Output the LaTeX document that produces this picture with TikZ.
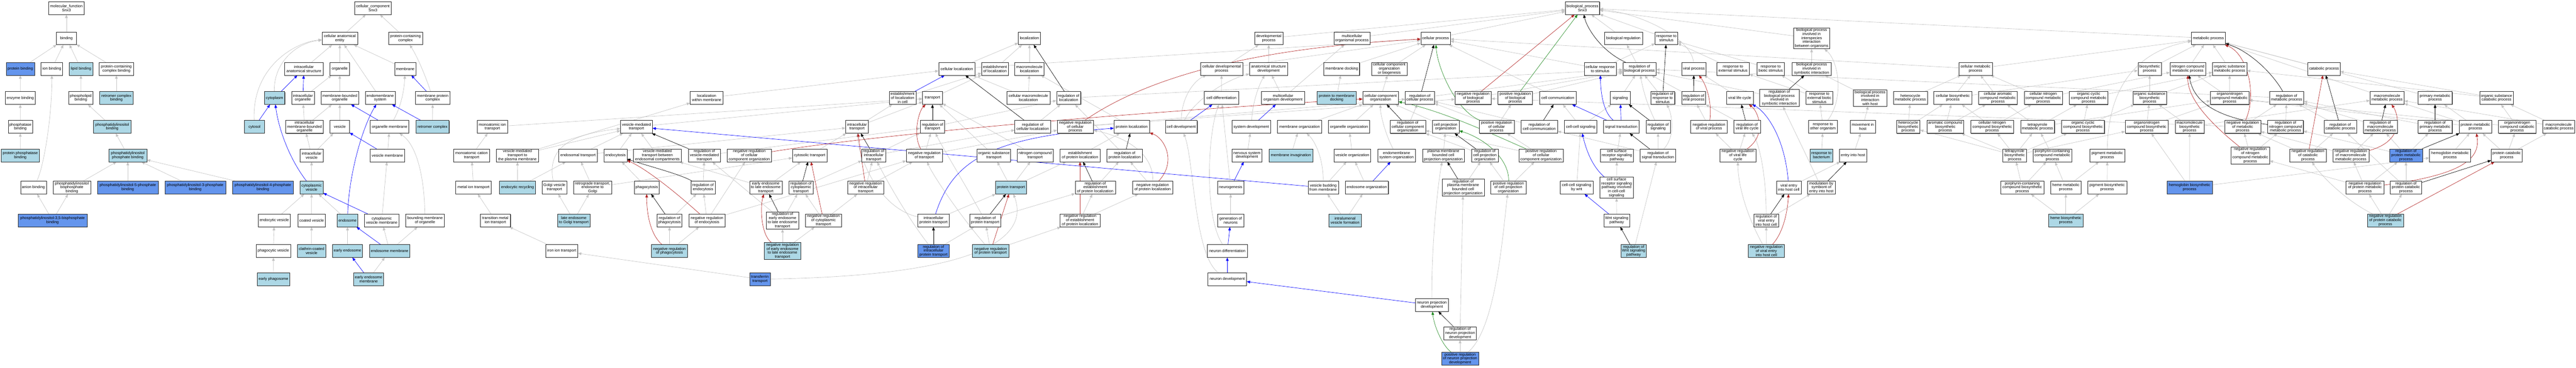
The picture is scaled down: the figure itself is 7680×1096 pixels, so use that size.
\documentclass[tikz,border=0pt]{standalone}
\usepackage{fontspec}
\newfontfamily\gofont{Liberation Sans}
\usetikzlibrary{arrows.meta, shadows}
\definecolor{selblue}{HTML}{ADD8E6}
\definecolor{annoblue}{HTML}{6495ED}
\definecolor{isagrey}{HTML}{C4C4C4}
\definecolor{partblue}{HTML}{0000FF}
\definecolor{negred}{HTML}{B22222}
\definecolor{posgreen}{HTML}{228B22}
\pgfdeclarelayer{back}
\pgfdeclarelayer{bg}
\pgfsetlayers{back,bg,main}

\begin{document}
\begin{tikzpicture}[x=1pt, y=-1pt,
    term/.style={draw=black!85, line width=0.8pt, fill=white, align=center,
      font=\gofont\fontsize{11.5}{12}\selectfont, inner xsep=1pt, inner ysep=2pt,
      minimum height=38pt,
      drop shadow={shadow xshift=1.3pt, shadow yshift=-1.3pt, fill=black!55, opacity=1}},
    sel/.style={term, fill=selblue},
    anno/.style={term, fill=annoblue},
    isa/.style={draw=isagrey, line width=1pt, -{Triangle[length=10pt,width=8pt]}},
    partof/.style={isa, draw=partblue},
    reg/.style={isa, draw=black},
    negreg/.style={isa, draw=negred},
    posreg/.style={isa, draw=posgreen}]

  \begin{pgfonlayer}{back}
    \fill[white] (0,0) rectangle (7680,1096);
  \end{pgfonlayer}
  \useasboundingbox (0,0) rectangle (7680,1096);

  % molecular function
  \node[term, minimum width=106pt] (mf) at (198,24) {molecular\_function\\Snx3};
  \node[term, minimum width=59pt] (bind) at (198,114) {binding};
  \node[anno, minimum width=84pt] (protbind) at (60.6,205) {protein binding};
  \node[term, minimum width=64pt] (ionbind) at (154.5,205) {ion binding};
  \node[sel, minimum width=70pt] (lipbind) at (241.4,205) {lipid binding};
  \node[term, minimum width=102pt] (pccbind) at (347,205) {protein-containing\\complex binding};
  \node[term, minimum width=90pt] (enzbind) at (60.4,292) {enzyme binding};
  \node[term, minimum width=72pt] (plbind) at (241,292) {phospholipid\\binding};
  \node[sel, minimum width=99pt] (retbind) at (347,292) {retromer complex\\binding};
  \node[term, minimum width=72pt] (phosbind) at (60.6,378) {phosphatase\\binding};
  \node[sel, minimum width=113pt] (pibind) at (334.5,378) {phosphatidylinositol\\binding};
  \node[sel, minimum width=113pt] (ppbind) at (60.4,463) {protein phosphatase\\binding};
  \node[sel, minimum width=113pt] (pipbind) at (381,463) {phosphatidylinositol\\phosphate binding};
  \node[term, minimum width=77pt] (anbind) at (99.6,559) {anion binding};
  \node[term, minimum width=112pt] (pibpbind) at (214.3,559) {phosphatidylinositol\\bisphosphate\\binding};
  \node[anno, minimum width=182pt] (pifivebind) at (381,559) {phosphatidylinositol-5-phosphate\\binding};
  \node[anno, minimum width=181pt] (pithreebind) at (582,559) {phosphatidylinositol-3-phosphate\\binding};
  \node[anno, minimum width=182pt] (pifourbind) at (783.7,559) {phosphatidylinositol-4-phosphate\\binding};
  \node[anno, minimum width=206pt] (pitfbind) at (156.7,657) {phosphatidylinositol-3,5-bisphosphate\\binding};

  % cellular component
  \node[term, minimum width=109pt] (cc) at (1111.8,24) {cellular\_component\\Snx3};
  \node[term, minimum width=106pt] (cae) at (1013,114) {cellular anatomical\\entity};
  \node[term, minimum width=102pt] (pcc) at (1209,114) {protein-containing\\complex};
  \node[term, minimum width=115pt] (ias) at (906,205) {intracellular\\anatomical structure};
  \node[term, minimum width=58pt] (orgl) at (1013,205) {organelle};
  \node[term, minimum width=63pt] (memb) at (1208,205) {membrane};
  \node[sel, minimum width=61pt] (cytopl) at (818.5,292) {cytoplasm};
  \node[term, minimum width=68pt] (iorg) at (903,292) {intracellular\\organelle};
  \node[term, minimum width=112pt] (mbo) at (1013,292) {membrane-bounded\\organelle};
  \node[term, minimum width=89pt] (ems) at (1133.5,292) {endomembrane\\system};
  \node[term, minimum width=102pt] (mpc) at (1290,292) {membrane protein\\complex};
  \node[sel, minimum width=59pt] (cytosol) at (758.7,378) {cytosol};
  \node[term, minimum width=112pt] (imbo) at (908,378) {intracellular\\membrane-bounded\\organelle};
  \node[term, minimum width=58pt] (ves) at (1013,378) {vesicle};
  \node[term, minimum width=115pt] (orgmem) at (1161.4,378) {organelle membrane};
  \node[sel, minimum width=99pt] (retcx) at (1289.5,378) {retromer complex};
  \node[term, minimum width=68pt] (ives) at (929,463) {intracellular\\vesicle};
  \node[term, minimum width=102pt] (vesmem) at (1155,463) {vesicle membrane};
  \node[sel, minimum width=69pt] (cves) at (928.8,559) {cytoplasmic\\vesicle};
  \node[term, minimum width=96pt] (endves) at (817.6,657) {endocytic vesicle};
  \node[term, minimum width=81pt] (coves) at (929,657) {coated vesicle};
  \node[sel, minimum width=61pt] (endo) at (1036,657) {endosome};
  \node[term, minimum width=102pt] (cvesmem) at (1138,657) {cytoplasmic\\vesicle membrane};
  \node[term, minimum width=115pt] (bmo) at (1267,657) {bounding membrane\\of organelle};
  \node[term, minimum width=102pt] (phves) at (815,748) {phagocytic vesicle};
  \node[sel, minimum width=84pt] (ccves) at (928.8,748) {clathrin-coated\\vesicle};
  \node[sel, minimum width=89pt] (eendo) at (1036,748) {early endosome};
  \node[sel, minimum width=121pt] (endomem) at (1161.6,748) {endosome membrane};
  \node[sel, minimum width=96pt] (ephago) at (815.5,832) {early phagosome};
  \node[sel, minimum width=89pt] (eendomem) at (1099,832) {early endosome\\membrane};

  % transport
  \node[term, minimum width=91pt] (miont) at (1468,378) {monoatomic ion\\transport};
  \node[term, minimum width=95pt] (vmt) at (1897.5,378) {vesicle-mediated\\transport};
  \node[term, minimum width=107pt] (mcatt) at (1406,463) {monoatomic cation\\transport};
  \node[term, minimum width=125pt] (vmtpm) at (1542.6,463) {vesicle-mediated\\transport to\\the plasma membrane};
  \node[term, minimum width=115pt] (endot) at (1723.4,463) {endosomal transport};
  \node[term, minimum width=68pt] (endocyt) at (1835,463) {endocytosis};
  \node[term, minimum width=143pt] (vmtec) at (1960,463) {vesicle-mediated\\transport between\\endosomal compartments};
  \node[term, minimum width=106pt] (metiont) at (1411.7,559) {metal ion transport};
  \node[sel, minimum width=107pt] (endrec) at (1543,559) {endocytic recycling};
  \node[term, minimum width=74pt] (golgivt) at (1653,559) {Golgi vesicle\\transport};
  \node[term, minimum width=114pt] (retrot) at (1766.8,559) {retrograde transport,\\endosome to\\Golgi};
  \node[term, minimum width=74pt] (phago) at (1928,559) {phagocytosis};
  \node[term, minimum width=90pt] (tmiont) at (1476.7,657) {transition metal\\ion transport};
  \node[sel, minimum width=98pt] (legt) at (1710.6,657) {late endosome\\to Golgi transport};
  \node[term, minimum width=96pt] (ironiont) at (1674.7,748) {iron ion transport};
  \node[term, minimum width=98pt] (locmem) at (2106.8,292) {localization\\within membrane};
  \node[term, minimum width=68pt] (intrt) at (2555,378) {intracellular\\transport};
  \node[term, minimum width=96pt] (regvmt) at (2100,463) {regulation of\\vesicle-mediated\\transport};
  \node[term, minimum width=132pt] (nrcco) at (2234,463) {negative regulation\\of cellular\\component organization};
  \node[term, minimum width=103pt] (cytosolt) at (2414,463) {cytosolic transport};
  \node[term, minimum width=72pt] (regendo) at (2096,559) {regulation of\\endocytosis};
  \node[term, minimum width=97pt] (eelet) at (2283,559) {early endosome\\to late endosome\\transport};
  \node[term, minimum width=72pt] (regcytt) at (2388,559) {regulation of\\cytoplasmic\\transport};
  \node[term, minimum width=108pt] (nrintrt) at (2581,559) {negative regulation\\of intracellular\\transport};
  \node[term, minimum width=74pt] (regphago) at (1996,657) {regulation of\\phagocytosis};
  \node[term, minimum width=108pt] (nrendo) at (2107.7,657) {negative regulation\\of endocytosis};
  \node[term, minimum width=97pt] (regeelet) at (2333,657) {regulation of\\early endosome\\to late endosome\\transport};
  \node[term, minimum width=108pt] (nrcytt) at (2455,657) {negative regulation\\of cytoplasmic\\transport};
  \node[sel, minimum width=108pt] (nrphago) at (1996,748) {negative regulation\\of phagocytosis};
  \node[sel, minimum width=109pt] (nreelet) at (2333,748) {negative regulation\\of early endosome\\to late endosome\\transport};
  \node[anno, minimum width=61pt] (tft) at (2265.7,832) {transferrin\\transport};

  % localization
  \node[term, minimum width=66pt] (locz) at (3069,114) {localization};
  \node[term, minimum width=108pt] (cellloc) at (2852.5,205) {cellular localization};
  \node[term, minimum width=80pt] (estloc) at (2966.5,205) {establishment\\of localization};
  \node[term, minimum width=87pt] (mmloc) at (3069,205) {macromolecule\\localization};
  \node[term, minimum width=80pt] (estlocc) at (2691,292) {establishment\\of localization\\in cell};
  \node[term, minimum width=59pt] (transp) at (2780,292) {transport};
  \node[term, minimum width=128pt] (cmmloc) at (3066,292) {cellular macromolecule\\localization};
  \node[term, minimum width=72pt] (regloc) at (3186,292) {regulation of\\localization};
  \node[term, minimum width=72pt] (regtr) at (2780,378) {regulation of\\transport};
  \node[term, minimum width=107pt] (regcloc) at (3079,378) {regulation of\\cellular localization};
  \node[term, minimum width=108pt] (nrcp) at (3206,378) {negative regulation\\of cellular\\process};
  \node[term, minimum width=71pt] (regintrt) at (2604.7,463) {regulation of\\intracellular\\transport};
  \node[term, minimum width=108pt] (nrtr) at (2756,463) {negative regulation\\of transport};
  \node[term, minimum width=100pt] (ost) at (2963,463) {organic substance\\transport};
  \node[term, minimum width=107pt] (nct) at (3086,463) {nitrogen compound\\transport};
  \node[term, minimum width=120pt] (estprot) at (3220,463) {establishment\\of protein localization};
  \node[sel, minimum width=93pt] (prott) at (3014,559) {protein transport};
  \node[term, minimum width=93pt] (iprott) at (2783,657) {intracellular\\protein transport};
  \node[term, minimum width=93pt] (regprott) at (2937,657) {regulation of\\protein transport};
  \node[term, minimum width=120pt] (nrestprot) at (3220,657) {negative regulation\\of establishment\\of protein localization};
  \node[anno, minimum width=93pt] (regiprott) at (2783,748) {regulation of\\intracellular\\protein transport};
  \node[sel, minimum width=108pt] (nrprott) at (2953.4,748) {negative regulation\\of protein transport};

  % development
  \node[term, minimum width=84pt] (devp) at (3782.6,114) {developmental\\process};
  \node[term, minimum width=126pt] (cdevp) at (3642,205) {cellular developmental\\process};
  \node[term, minimum width=113pt] (asdev) at (3782,205) {anatomical structure\\development};
  \node[term, minimum width=102pt] (celldiff) at (3641.6,292) {cell differentiation};
  \node[term, minimum width=128pt] (modev) at (3825,292) {multicellular\\organism development};
  \node[term, minimum width=106pt] (protloc) at (3374,378) {protein localization};
  \node[term, minimum width=95pt] (celldev) at (3521.7,378) {cell development};
  \node[term, minimum width=116pt] (sysdev) at (3730.3,378) {system development};
  \node[term, minimum width=131pt] (memorg) at (3874.3,378) {membrane organization};
  \node[term, minimum width=106pt] (regprotloc) at (3353,463) {regulation of\\protein localization};
  \node[term, minimum width=90pt] (nsdev) at (3717.6,463) {nervous system\\development};
  \node[sel, minimum width=131pt] (meminv) at (3848.6,463) {membrane invagination};
  \node[term, minimum width=120pt] (regestprot) at (3265.3,559) {regulation of\\establishment\\of protein localization};
  \node[term, minimum width=120pt] (nrprotloc) at (3436.3,559) {negative regulation\\of protein localization};
  \node[term, minimum width=77pt] (neurog) at (3669,559) {neurogenesis};
  \node[term, minimum width=77pt] (genneur) at (3669,657) {generation of\\neurons};
  \node[term, minimum width=119pt] (neurdiff) at (3659,748) {neuron differentiation};
  \node[term, minimum width=115pt] (neurdev) at (3659,832) {neuron development};

  % cellular process
  \node[term, minimum width=108pt] (mop) at (4030.6,114) {multicellular\\organismal process};
  \node[term, minimum width=88pt] (cellp) at (4280,114) {cellular process};
  \node[term, minimum width=106pt] (memdock) at (4000,205) {membrane docking};
  \node[term, minimum width=106pt] (ccob) at (4142,205) {cellular component\\organization\\or biogenesis};
  \node[sel, minimum width=117pt] (pmdock) at (3985,292) {protein to membrane\\docking};
  \node[term, minimum width=106pt] (cco) at (4116,292) {cellular component\\organization};
  \node[term, minimum width=87pt] (regcp) at (4233,292) {regulation of\\cellular process};
  \node[term, minimum width=108pt] (nrbp) at (4392,292) {negative regulation\\of biological\\process};
  \node[term, minimum width=103pt] (prbp) at (4517.5,292) {positive regulation\\of biological\\process};
  \node[term, minimum width=123pt] (orgorg) at (4022,378) {organelle organization};
  \node[term, minimum width=106pt] (regcco) at (4197,378) {regulation of\\cellular component\\organization};
  \node[term, minimum width=80pt] (cpo) at (4310,378) {cell projection\\organization};
  \node[term, minimum width=104pt] (prcp) at (4462,378) {positive regulation\\of cellular\\process};
  \node[term, minimum width=110pt] (vesorg) at (4031.6,463) {vesicle organization};
  \node[term, minimum width=112pt] (emsorg) at (4163.6,463) {endomembrane\\system organization};
  \node[term, minimum width=125pt] (pmbcpo) at (4303,463) {plasma membrane\\bounded cell\\projection organization};
  \node[term, minimum width=80pt] (regcpo) at (4427,463) {regulation of\\cell projection\\organization};
  \node[term, minimum width=91pt] (vesbud) at (3945,559) {vesicle budding\\from membrane};
  \node[term, minimum width=128pt] (endoorg) at (4075,559) {endosome organization};
  \node[term, minimum width=126pt] (regpmbcpo) at (4362,559) {regulation of\\plasma membrane\\bounded cell\\projection organization};
  \node[term, minimum width=105pt] (prcpo) at (4497,559) {positive regulation\\of cell projection\\organization};
  \node[sel, minimum width=97pt] (ilvf) at (4010,657) {intralumenal\\vesicle formation};
  \node[term, minimum width=97pt] (npd) at (4268.8,909) {neuron projection\\development};
  \node[term, minimum width=97pt] (regnpd) at (4353,993) {regulation of\\neuron projection\\development};
  \node[anno, minimum width=110pt] (prnpd) at (4353,1069) {positive regulation\\of neuron projection\\development};

  % biological process, signaling
  \node[term, minimum width=102pt] (bp) at (4717.8,24) {biological\_process\\Snx3};
  \node[term, minimum width=113pt] (bioreg) at (4840,114) {biological regulation};
  \node[term, minimum width=67pt] (rstim) at (4968,114) {response to\\stimulus};
  \node[term, minimum width=95pt] (crstim) at (4770.8,205) {cellular response\\to stimulus};
  \node[term, minimum width=99pt] (regbp) at (4887.8,205) {regulation of\\biological process};
  \node[term, minimum width=72pt] (virp) at (5050,205) {viral process};
  \node[term, minimum width=109pt] (cellcom) at (4644.3,292) {cell communication};
  \node[term, minimum width=59pt] (signaling) at (4830.6,292) {signaling};
  \node[term, minimum width=72pt] (regrstim) at (4957,292) {regulation of\\response to\\stimulus};
  \node[term, minimum width=71pt] (regvirp) at (5049,292) {regulation of\\viral process};
  \node[term, minimum width=109pt] (regcellcom) at (4589,378) {regulation of\\cell communication};
  \node[term, minimum width=97pt] (ccsig) at (4712.4,378) {cell-cell signaling};
  \node[term, minimum width=106pt] (sigtr) at (4833.5,378) {signal transduction};
  \node[term, minimum width=72pt] (regsig) at (4943.3,378) {regulation of\\signaling};
  \node[term, minimum width=109pt] (nrvirp) at (5095,378) {negative regulation\\of viral process};
  \node[term, minimum width=132pt] (prcco) at (4594.4,463) {positive regulation\\of cellular\\component organization};
  \node[term, minimum width=99pt] (csrsp) at (4820.4,463) {cell surface\\receptor signaling\\pathway};
  \node[term, minimum width=106pt] (regsigtr) at (4943,463) {regulation of\\signal transduction};
  \node[term, minimum width=97pt] (ccwnt) at (4700.4,559) {cell-cell signaling\\by wnt};
  \node[term, minimum width=100pt] (csrspcc) at (4819.4,559) {cell surface\\receptor signaling\\pathway involved\\in cell-cell\\signaling};
  \node[term, minimum width=77pt] (wnt) at (4820,657) {Wnt signaling\\pathway};
  \node[sel, minimum width=76pt] (regwnt) at (4870.4,748) {regulation of\\Wnt signaling\\pathway};

  % interaction with host
  \node[term, minimum width=108pt] (bpinter) at (5401,114) {biological process\\involved in\\interspecies\\interaction\\between organisms};
  \node[term, minimum width=97pt] (rext) at (5166.6,205) {response to\\external stimulus};
  \node[term, minimum width=82pt] (rbiot) at (5279,205) {response to\\biotic stimulus};
  \node[term, minimum width=117pt] (bpsym) at (5401,205) {biological process\\involved in\\symbiotic interaction};
  \node[term, minimum width=80pt] (vlc) at (5186.8,292) {viral life cycle};
  \node[term, minimum width=117pt] (regbpsym) at (5305,292) {regulation of\\biological process\\involved in\\symbiotic interaction};
  \node[term, minimum width=80pt] (rextbiot) at (5424,292) {response to\\external biotic\\stimulus};
  \node[term, minimum width=100pt] (bphost) at (5575.5,292) {biological process\\involved in\\interaction\\with host};
  \node[term, minimum width=102pt] (hetmp) at (5695.5,292) {heterocycle\\metabolic process};
  \node[term, minimum width=80pt] (regvlc) at (5208.6,378) {regulation of\\viral life cycle};
  \node[term, minimum width=86pt] (rother) at (5434.7,378) {response to\\other organism};
  \node[term, minimum width=76pt] (movhost) at (5553.7,378) {movement in\\host};
  \node[term, minimum width=70pt] (hetbp) at (5689,378) {heterocycle\\biosynthetic\\process};
  \node[term, minimum width=110pt] (acbp) at (5799.6,378) {aromatic compound\\biosynthetic\\process};
  \node[term, minimum width=108pt] (nrvlc) at (5181.4,463) {negative regulation\\of viral life\\cycle};
  \node[sel, minimum width=67pt] (rbact) at (5430.4,463) {response to\\bacterium};
  \node[term, minimum width=82pt] (entryhost) at (5524.5,463) {entry into host};
  \node[term, minimum width=73pt] (vehc) at (5333,559) {viral entry\\into host cell};
  \node[term, minimum width=82pt] (modentry) at (5430,559) {modulation by\\symbiont of\\entry into host};
  \node[term, minimum width=74pt] (regvehc) at (5265.7,657) {regulation of\\viral entry\\into host cell};
  \node[sel, minimum width=108pt] (nrvehc) at (5266,748) {negative regulation\\of viral entry\\into host cell};

  % metabolism
  \node[term, minimum width=100pt] (cmp) at (5889.6,205) {cellular metabolic\\process};
  \node[term, minimum width=70pt] (biosyn) at (6409,205) {biosynthetic\\process};
  \node[term, minimum width=113pt] (cbp) at (5822,292) {cellular biosynthetic\\process};
  \node[term, minimum width=115pt] (cacmp) at (5956.5,292) {cellular aromatic\\compound metabolic\\process};
  \node[term, minimum width=114pt] (cncmp) at (6091.6,292) {cellular nitrogen\\compound metabolic\\process};
  \node[term, minimum width=115pt] (occmp) at (6227,292) {organic cyclic\\compound metabolic\\process};
  \node[term, minimum width=100pt] (osbp) at (6408.7,292) {organic substance\\biosynthetic\\process};
  \node[term, minimum width=128pt] (cncbp) at (5939.4,378) {cellular nitrogen\\compound biosynthetic\\process};
  \node[term, minimum width=101pt] (tmp) at (6074.5,378) {tetrapyrrole\\metabolic process};
  \node[term, minimum width=128pt] (occbp) at (6210,378) {organic cyclic\\compound biosynthetic\\process};
  \node[term, minimum width=128pt] (oncbp) at (6400,378) {organonitrogen\\compound biosynthetic\\process};
  \node[term, minimum width=70pt] (tbp) at (6006.3,463) {tetrapyrrole\\biosynthetic\\process};
  \node[term, minimum width=116pt] (pccmp) at (6118.8,463) {porphyrin-containing\\compound metabolic\\process};
  \node[term, minimum width=104pt] (pigmp) at (6282.4,463) {pigment metabolic\\process};
  \node[term, minimum width=128pt] (pccbp) at (6029,559) {porphyrin-containing\\compound biosynthetic\\process};
  \node[term, minimum width=91pt] (hememp) at (6159,559) {heme metabolic\\process};
  \node[term, minimum width=117pt] (pigbp) at (6282.2,559) {pigment biosynthetic\\process};
  \node[sel, minimum width=102pt] (hemebp) at (6159,657) {heme biosynthetic\\process};
  \node[term, minimum width=101pt] (mp) at (6584,114) {metabolic process};
  \node[term, minimum width=107pt] (ncmp) at (6523,205) {nitrogen compound\\metabolic process};
  \node[term, minimum width=102pt] (osmp) at (6647.3,205) {organic substance\\metabolic process};
  \node[term, minimum width=96pt] (catp) at (6928.7,205) {catabolic process};
  \node[term, minimum width=115pt] (oncmp) at (6647.4,292) {organonitrogen\\compound metabolic\\process};
  \node[term, minimum width=102pt] (regmp) at (6817,292) {regulation of\\metabolic process};
  \node[term, minimum width=86pt] (mmbp) at (6527.8,378) {macromolecule\\biosynthetic\\process};
  \node[term, minimum width=108pt] (nrmp) at (6686,378) {negative regulation\\of metabolic\\process};
  \node[term, minimum width=106pt] (regncmp) at (6814,378) {regulation of\\nitrogen compound\\metabolic process};
  \node[term, minimum width=96pt] (regcatp) at (6977.3,378) {regulation of\\catabolic process};
  \node[term, minimum width=115pt] (nrncmp) at (6708.8,463) {negative regulation\\of nitrogen\\compound metabolic\\process};
  \node[term, minimum width=108pt] (nrcatp) at (6881,463) {negative regulation\\of catabolic\\process};
  \node[term, minimum width=108pt] (nrmmp) at (7008.7,463) {negative regulation\\of macromolecule\\metabolic process};
  \node[anno, minimum width=135pt] (hbbp) at (6528,559) {hemoglobin biosynthetic\\process};
  \node[term, minimum width=113pt] (nrpmp) at (7050.8,559) {negative regulation\\of protein metabolic\\process};
  \node[term, minimum width=102pt] (mmp) at (7116.7,292) {macromolecule\\metabolic process};
  \node[term, minimum width=102pt] (primmp) at (7259.8,292) {primary metabolic\\process};
  \node[term, minimum width=100pt] (oscp) at (7442.8,292) {organic substance\\catabolic process};
  \node[term, minimum width=102pt] (regmmp) at (7096.5,378) {regulation of\\macromolecule\\metabolic process};
  \node[term, minimum width=102pt] (regprimmp) at (7259.8,378) {regulation of\\primary metabolic\\process};
  \node[term, minimum width=98pt] (pmp) at (7380,378) {protein metabolic\\process};
  \node[term, minimum width=111pt] (onccp) at (7504.5,378) {organonitrogen\\compound catabolic\\process};
  \node[term, minimum width=96pt] (mmcp) at (7628,378) {macromolecule\\catabolic process};
  \node[anno, minimum width=98pt] (regpmp) at (7173,463) {regulation of\\protein metabolic\\process};
  \node[term, minimum width=123pt] (hbmp) at (7304.5,463) {hemoglobin metabolic\\process};
  \node[term, minimum width=92pt] (pcp) at (7473.3,463) {protein catabolic\\process};
  \node[term, minimum width=93pt] (regpcp) at (7173,559) {regulation of\\protein catabolic\\process};
  \node[sel, minimum width=108pt] (nrpcp) at (7111.6,657) {negative regulation\\of protein catabolic\\process};

  \begin{pgfonlayer}{bg}
  % is_a links
  \foreach \a/\b in {bind/mf, protbind/bind, ionbind/bind, lipbind/bind, pccbind/bind,
      enzbind/protbind, plbind/lipbind, retbind/pccbind, phosbind/enzbind, pibind/plbind,
      ppbind/phosbind, pipbind/pibind, pibpbind/pipbind, pifivebind/pipbind,
      pithreebind/pipbind, pifourbind/pipbind, pitfbind/anbind, pitfbind/pibpbind,
      cae/cc, pcc/cc, ias/cae, orgl/cae, memb/cae, ems/cae, iorg/orgl, mbo/orgl,
      imbo/iorg, imbo/mbo, ves/mbo, retcx/mpc, ives/imbo, ives/ves, vesmem/orgmem,
      cves/ives, endves/cves, coves/cves, endo/cves, cvesmem/vesmem, phves/endves,
      ccves/coves, eendo/endo, endomem/cvesmem, endomem/bmo, ephago/phves, eendomem/endomem,
      mcatt/miont, metiont/mcatt, tmiont/metiont, ironiont/tmiont, tft/ironiont,
      miont/transp, vmt/transp, vmtpm/vmt, vmtpm/locmem, endrec/vmtpm, endrec/endot,
      endot/vmt, endot/intrt, endocyt/vmt, retrot/endot, retrot/cytosolt, legt/golgivt,
      legt/retrot, phago/endocyt, vmtec/vmt, locmem/cellloc, regendo/regvmt, regvmt/regtr,
      nrendo/regendo, nrendo/nrcco, nrendo/nrtr, regphago/regendo, nrphago/regphago,
      nrphago/nrendo, eelet/vmtec, eelet/cytosolt, regeelet/regcytt, regeelet/regvmt,
      nreelet/regeelet, nreelet/nrcytt, nrcytt/regcytt, nrcytt/nrintrt, regcytt/regintrt,
      cytosolt/intrt, intrt/estlocc, intrt/transp, transp/estloc, estlocc/estloc,
      estloc/locz, mmloc/locz, cellloc/locz, cellloc/cellp, cmmloc/mmloc, cmmloc/cellloc,
      regcloc/regloc, regtr/regloc, regloc/regbp, nrtr/regtr, nrtr/nrcp, regintrt/regtr,
      regintrt/regcloc, nrintrt/regintrt, nrintrt/nrtr, ost/transp, nct/transp,
      prott/ost, prott/nct, prott/estprot, iprott/prott, regprott/regestprot,
      regiprott/regprott, nrprott/regprott, nrprott/nrestprot, estprot/protloc,
      protloc/mmloc, regprotloc/regloc, regestprot/regprotloc, nrestprot/regestprot,
      nrestprot/nrprotloc, nrprotloc/regprotloc,
      devp/bp, cdevp/devp, asdev/devp, cdevp/cellp, celldiff/cdevp, modev/asdev,
      modev/mop, nsdev/sysdev, neurog/celldiff, genneur/neurog,
      mop/bp, cellp/bp, memdock/cellp, ccob/cellp, pmdock/memdock, cco/ccob, orgorg/cco,
      memorg/cco, vesorg/orgorg, endoorg/vesorg, vesbud/vesorg, meminv/memorg, ilvf/vesbud,
      ilvf/endoorg, regcco/regcp, cpo/cco, pmbcpo/cpo, regcpo/regcco, regpmbcpo/regcpo,
      prcpo/regcpo, prcpo/prcco, regnpd/regpmbcpo, prnpd/regnpd, prcco/prcp, prcco/regcco,
      regcp/regbp, nrbp/regbp, prbp/regbp, prcp/prbp, prcp/regcp, nrcp/regcp, nrcp/nrbp,
      bioreg/bp, rstim/bp, crstim/rstim, crstim/cellp, regbp/bioreg, cellcom/cellp,
      signaling/regbp, regrstim/regbp, regvirp/regbp, ccsig/cellcom, ccsig/signaling,
      csrsp/sigtr, regsigtr/regsig, regsigtr/regcellcom, regcellcom/regcp, nrvirp/regvirp,
      ccwnt/ccsig, csrspcc/csrsp, wnt/csrspcc, regwnt/regsigtr,
      bpinter/bp, bpsym/bpinter, rext/rstim, rbiot/rstim, vlc/virp, regbpsym/regbp,
      rextbiot/rbiot, rextbiot/rext, bphost/bpsym, regvlc/regvirp, movhost/bphost,
      nrvlc/regvlc, nrvlc/nrvirp, rbact/rother, entryhost/movhost, vehc/entryhost,
      regvehc/modentry, nrvehc/regvehc, rother/rextbiot,
      hetmp/cmp, hetbp/hetmp, hetbp/cbp, acbp/cacmp, acbp/cbp, cmp/mp, cmp/cellp,
      cbp/cmp, cbp/biosyn, cacmp/cmp, cncmp/cmp, cncmp/ncmp, occmp/osmp, cncbp/cbp,
      cncbp/cncmp, tmp/cacmp, tmp/occmp, tmp/oncmp, occbp/occmp, occbp/osbp, osbp/osmp,
      osbp/biosyn, oncbp/osbp, oncbp/oncmp, tbp/tmp, tbp/cncbp, tbp/acbp, tbp/occbp,
      tbp/oncbp, tbp/hetbp, pccmp/tmp, pccbp/tbp, pccbp/pccmp, hememp/pccmp, hememp/pigmp,
      pigbp/pigmp, hemebp/pccbp, hemebp/hememp, hemebp/pigbp, mp/bp, biosyn/mp, ncmp/mp,
      osmp/mp, catp/mp, oncmp/ncmp, oncmp/osmp, regmp/regbp, mmbp/osbp, mmbp/mmp,
      nrmp/regmp, nrmp/nrbp, regncmp/regmp, regcatp/regmp, nrncmp/nrmp, nrncmp/regncmp,
      nrcatp/regcatp, nrcatp/nrmp, nrmmp/nrmp, nrmmp/regmmp, hbbp/mmbp, hbbp/oncbp,
      hbbp/hbmp, nrpmp/nrncmp, nrpmp/nrmmp, nrpmp/regpmp, mmp/mp, primmp/mp, oscp/catp,
      oscp/osmp, regmmp/regmp, regprimmp/regmp, pmp/primmp, pmp/mmp, pmp/oncmp,
      onccp/oscp, onccp/oncmp, mmcp/oscp, mmcp/mmp, regpmp/regmmp, regpmp/regprimmp,
      regpmp/regncmp, hbmp/pmp, pcp/pmp, pcp/onccp, pcp/mmcp, regpcp/regpmp,
      regpcp/regcatp, nrpcp/regpcp, nrpcp/nrpmp}
    \draw[isa] (\a) -- (\b);

  \draw[isa] (anbind) .. controls (130,500) and (155,350) .. (ionbind);
  \draw[isa] (cytopl) .. controls (815,190) and (880,128) .. (cae);
  \draw[isa] (cytosol) .. controls (750,200) and (880,125) .. (cae);
  \draw[isa] (orgmem) .. controls (1195,320) and (1205,270) .. (memb);
  \draw[isa] (mpc) .. controls (1270,230) and (1245,170) .. (pcc);
  \draw[isa] (bmo) .. controls (1265,520) and (1240,430) .. (orgmem);
  \draw[isa] (golgivt) .. controls (1630,440) and (1700,400) .. (vmt);
  \draw[isa] (tft) .. controls (3000,820) and (3060,680) .. (prott);
  \draw[isa] (iprott) .. controls (2620,620) and (2560,470) .. (intrt);
  \draw[isa] (regprott) .. controls (2860,520) and (2810,440) .. (regtr);
  \draw[isa] (nrprott) .. controls (2860,640) and (2780,520) .. (nrtr);
  \draw[isa] (regiprott) .. controls (2700,640) and (2640,530) .. (regintrt);
  \draw[isa] (nrprotloc) .. controls (3440,440) and (3320,400) .. (nrcp);
  \draw[isa] (celldev) .. controls (3522,290) and (3560,240) .. (cdevp);
  \draw[isa] (celldev) .. controls (3560,300) and (3650,240) .. (asdev);
  \draw[isa] (sysdev) .. controls (3735,300) and (3755,250) .. (asdev);
  \draw[isa] (neurdiff) .. controls (3590,650) and (3600,400) .. (celldiff);
  \draw[isa] (neurdev) .. controls (3560,760) and (3560,480) .. (celldev);
  \draw[isa] (vesbud) .. controls (3945,470) and (3920,420) .. (memorg);
  \draw[isa] (emsorg) .. controls (4130,400) and (4115,340) .. (cco);
  \draw[isa] (npd) .. controls (4268,700) and (4290,530) .. (pmbcpo);
  \draw[isa] (prnpd) .. controls (4460,980) and (4480,700) .. (prcpo);
  \draw[isa] (virp) .. controls (5045,120) and (4900,40) .. (bp);
  \draw[isa] (regsig) .. controls (4905,300) and (4895,250) .. (regbp);
  \draw[isa] (regsigtr) .. controls (5000,400) and (4980,330) .. (regrstim);
  \draw[isa] (rother) .. controls (5500,290) and (5480,180) .. (bpinter);
  \draw[isa] (modentry) .. controls (5370,430) and (5330,350) .. (regbpsym);
  \draw[isa] (regvehc) .. controls (5265,500) and (5240,420) .. (regvlc);
  \draw[isa] (nrvehc) .. controls (5195,620) and (5181,530) .. (nrvlc);
  \draw[isa] (pigmp) .. controls (6285,250) and (6380,150) .. (mp);
  \draw[isa] (nrpcp) .. controls (6980,590) and (6910,510) .. (nrcatp);

  % part_of links
  \foreach \a/\b in {cytopl/ias, iorg/ias, orgmem/mbo, retcx/ems, mpc/memb, cytosol/cytopl,
      vesmem/ves, cvesmem/cves, endomem/endo, eendomem/eendo, vesbud/vmt,
      celldev/celldiff, sysdev/modev, neurog/nsdev, neurdiff/genneur, neurdev/neurdiff,
      npd/neurdev, endoorg/emsorg, estlocc/cellloc, sigtr/signaling, sigtr/cellcom,
      wnt/ccwnt}
    \draw[partof] (\a) -- (\b);
  \draw[partof] (cves) .. controls (860,470) and (830,380) .. (cytopl);
  \draw[partof] (endo) .. controls (1040,520) and (1080,380) .. (ems);
  \draw[partof] (iprott) .. controls (2840,480) and (2950,410) .. (protloc);
  \draw[partof] (sigtr) .. controls (4775,330) and (4772,260) .. (crstim);
  \draw[partof] (csrspcc) .. controls (4740,490) and (4725,430) .. (ccsig);
  \draw[partof] (vehc) .. controls (5320,400) and (5260,330) .. (vlc);

  % regulates links
  \foreach \a/\b in {regvmt/vmt, regphago/phago, regeelet/eelet, regcytt/cytosolt,
      regintrt/intrt, regloc/locz, regcloc/cellloc, regtr/transp, regprott/prott,
      regiprott/iprott, regprotloc/protloc, regestprot/estprot, regcp/cellp, regcco/cco,
      regcpo/cpo, regpmbcpo/pmbcpo, regnpd/npd, regrstim/rstim, regvirp/virp,
      regcellcom/cellcom, regsig/signaling, regsigtr/sigtr, regwnt/wnt, regvlc/vlc,
      regbpsym/bpsym, modentry/entryhost, regvehc/vehc, regcatp/catp, regmmp/mmp,
      regprimmp/primmp, regpmp/pmp, regpcp/pcp}
    \draw[reg] (\a) -- (\b);
  \draw[reg] (regendo) .. controls (2030,520) and (1950,500) .. (endocyt);
  \draw[reg] (regbp) .. controls (4770,150) and (4730,80) .. (bp);
  \draw[reg] (regmp) .. controls (6770,210) and (6700,150) .. (mp);
  \draw[reg] (regncmp) .. controls (6600,350) and (6540,300) .. (ncmp);

  % negatively regulates links
  \foreach \a/\b in {nrcytt/cytosolt, nrintrt/intrt, nrprott/prott, nrestprot/estprot,
      nrbp/bp, nrcatp/catp, nrpcp/pcp}
    \draw[negreg] (\a) -- (\b);
  \draw[negreg] (nrcco) .. controls (2560,410) and (3200,345) .. (cco);
  \draw[negreg] (nrphago) .. controls (1940,700) and (1928,640) .. (phago);
  \draw[negreg] (nrendo) .. controls (2000,560) and (1920,500) .. (endocyt);
  \draw[negreg] (nreelet) .. controls (2270,700) and (2265,620) .. (eelet);
  \draw[negreg] (nrtr) .. controls (2720,400) and (2740,330) .. (transp);
  \draw[negreg] (nrprotloc) .. controls (3510,480) and (3470,410) .. (protloc);
  \draw[negreg] (nrcp) .. controls (3450,210) and (3800,140) .. (cellp);
  \draw[negreg] (nrvirp) .. controls (5105,300) and (5085,250) .. (virp);
  \draw[negreg] (nrvlc) .. controls (5270,400) and (5240,330) .. (vlc);
  \draw[negreg] (nrvehc) .. controls (5320,690) and (5330,620) .. (vehc);
  \draw[negreg] (nrmp) .. controls (6730,280) and (6700,160) .. (mp);
  \draw[negreg] (nrncmp) .. controls (6580,360) and (6522,290) .. (ncmp);
  \draw[negreg] (nrmmp) .. controls (7170,420) and (7150,340) .. (mmp);
  \draw[negreg] (nrpmp) .. controls (7350,520) and (7395,470) .. (pmp);

  % positively regulates links
  \draw[posreg] (prbp) -- (bp);
  \draw[posreg] (prcp) .. controls (4340,330) and (4285,200) .. (cellp);
  \draw[posreg] (prcco) .. controls (4450,400) and (4300,330) .. (cco);
  \draw[posreg] (prcpo) .. controls (4500,470) and (4420,410) .. (cpo);
  \draw[posreg] (prnpd) .. controls (4300,1030) and (4275,970) .. (npd);
  \end{pgfonlayer}
\end{tikzpicture}
\end{document}
